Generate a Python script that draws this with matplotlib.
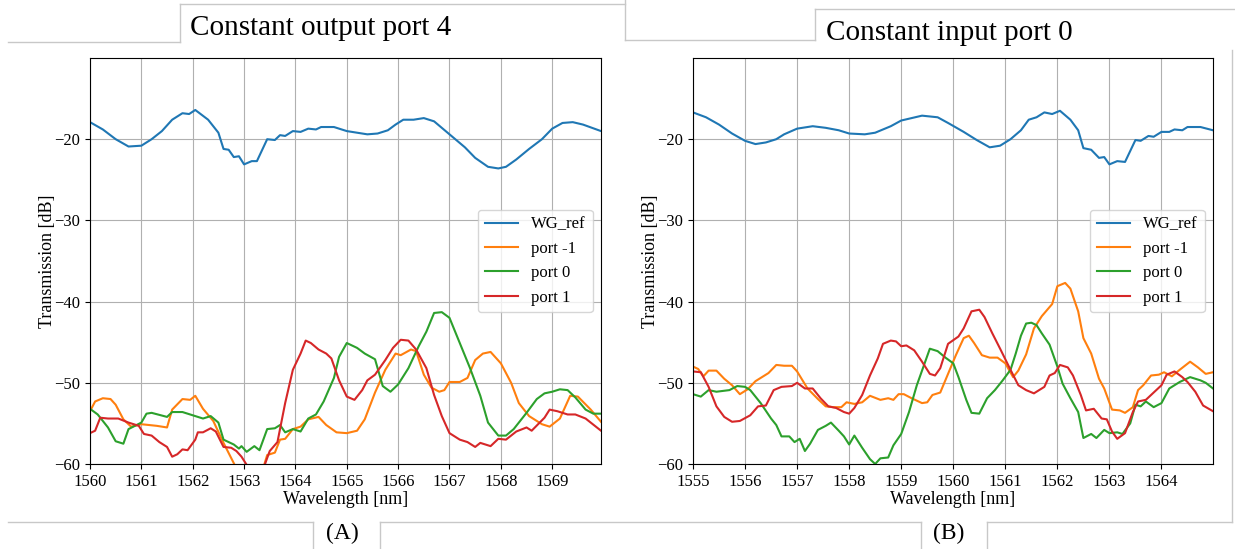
import matplotlib.pyplot as plt
from matplotlib.lines import Line2D

# constant output port 4 (left panel)
wl_a_ref = [1560.0, 1560.25, 1560.5, 1560.75, 1561.0, 1561.2, 1561.4, 1561.6, 1561.8, 1561.93, 1562.05,
            1562.3, 1562.5, 1562.6, 1562.7, 1562.8, 1562.9, 1563.0, 1563.15, 1563.25, 1563.45, 1563.6,
            1563.7, 1563.8, 1563.95, 1564.1, 1564.25, 1564.4, 1564.5, 1564.75, 1565.0, 1565.2, 1565.4,
            1565.6, 1565.8, 1565.95, 1566.1, 1566.3, 1566.5, 1566.7, 1567.0, 1567.3, 1567.5, 1567.75,
            1567.95, 1568.1, 1568.3, 1568.55, 1568.8, 1569.0, 1569.2, 1569.4, 1569.6, 1569.95]
a_ref = [-17.9, -18.8, -20.0, -20.9, -20.8, -20.0, -19.0, -17.6, -16.8, -16.9, -16.4,
         -17.6, -19.2, -21.2, -21.3, -22.2, -22.1, -23.1, -22.7, -22.7, -20.0, -20.1,
         -19.5, -19.6, -19.0, -19.1, -18.7, -18.8, -18.5, -18.5, -19.0, -19.2, -19.4,
         -19.3, -18.9, -18.2, -17.6, -17.6, -17.4, -17.8, -19.4, -21.0, -22.3, -23.4,
         -23.6, -23.4, -22.5, -21.2, -20.0, -18.7, -18.0, -17.9, -18.2, -19.0]

wl_a_m1 = [1560.0, 1560.1, 1560.25, 1560.4, 1560.5, 1560.65, 1560.8, 1561.0, 1561.3, 1561.5, 1561.6,
           1561.8, 1561.95, 1562.05, 1562.2, 1562.4, 1562.6, 1562.8, 1562.95, 1563.1, 1563.3, 1563.45,
           1563.6, 1563.7, 1563.8, 1563.95, 1564.1, 1564.25, 1564.45, 1564.6, 1564.8, 1565.0, 1565.2,
           1565.35, 1565.55, 1565.75, 1565.95, 1566.05, 1566.25, 1566.35, 1566.5, 1566.65, 1566.8,
           1566.9, 1567.0, 1567.2, 1567.35, 1567.5, 1567.65, 1567.8, 1568.0, 1568.2, 1568.35, 1568.55,
           1568.8, 1568.95, 1569.15, 1569.35, 1569.5, 1569.75, 1569.95]
a_m1 = [-53.5, -52.3, -51.9, -52.0, -52.7, -54.5, -55.4, -55.1, -55.3, -55.5, -53.3,
        -52.0, -52.1, -51.6, -53.2, -54.7, -57.4, -59.9, -62.0, -63.0, -62.0, -58.9,
        -58.6, -57.0, -56.9, -55.7, -55.4, -54.5, -54.2, -55.2, -56.1, -56.2, -55.9,
        -54.5, -51.2, -48.4, -46.4, -46.6, -45.9, -46.1, -49.0, -50.6, -51.1,
        -50.9, -49.9, -49.9, -49.4, -47.2, -46.4, -46.2, -47.6, -50.0, -52.5, -54.1,
        -55.1, -55.4, -54.4, -51.6, -51.7, -53.3, -54.8]

wl_a_p0 = [1560.0, 1560.15, 1560.35, 1560.5, 1560.65, 1560.75, 1561.0, 1561.1, 1561.2, 1561.5, 1561.6,
           1561.8, 1562.0, 1562.2, 1562.35, 1562.5, 1562.6, 1562.8, 1562.9, 1562.95, 1563.05, 1563.2,
           1563.3, 1563.45, 1563.6, 1563.7, 1563.8, 1563.95, 1564.1, 1564.25, 1564.4, 1564.55, 1564.75,
           1564.85, 1565.0, 1565.2, 1565.35, 1565.55, 1565.7, 1565.85, 1566.0, 1566.2, 1566.4, 1566.55,
           1566.7, 1566.85, 1567.0, 1567.2, 1567.4, 1567.6, 1567.75, 1567.95, 1568.1, 1568.25, 1568.5,
           1568.7, 1568.85, 1569.0, 1569.15, 1569.3, 1569.45, 1569.65, 1569.8, 1569.95]
a_p0 = [-53.2, -53.9, -55.5, -57.2, -57.5, -55.7, -54.9, -53.8, -53.7, -54.2, -53.6,
        -53.6, -54.0, -54.4, -54.1, -54.9, -57.0, -57.6, -58.1, -57.8, -58.5, -57.8,
        -58.3, -55.7, -55.6, -55.2, -56.1, -55.7, -56.0, -54.4, -53.9, -52.3, -49.4,
        -46.8, -45.1, -45.7, -46.4, -47.1, -50.4, -51.1, -50.2, -48.2, -45.5, -43.7,
        -41.4, -41.3, -42.0, -45.1, -48.2, -51.6, -54.9, -56.5, -56.5, -55.7, -53.7,
        -52.0, -51.3, -51.1, -50.8, -50.9, -51.8, -53.3, -53.8, -53.8]

wl_a_p1 = [1560.0, 1560.1, 1560.2, 1560.35, 1560.55, 1560.75, 1560.95, 1561.05, 1561.2, 1561.35, 1561.5,
           1561.6, 1561.7, 1561.8, 1561.9, 1562.05, 1562.1, 1562.2, 1562.35, 1562.45, 1562.6, 1562.75,
           1562.85, 1562.95, 1563.05, 1563.2, 1563.35, 1563.5, 1563.65, 1563.8, 1563.95, 1564.1, 1564.2,
           1564.3, 1564.45, 1564.6, 1564.7, 1564.85, 1565.0, 1565.15, 1565.3, 1565.4, 1565.55, 1565.75,
           1565.9, 1566.05, 1566.2, 1566.35, 1566.55, 1566.7, 1566.85, 1567.0, 1567.2, 1567.35, 1567.5,
           1567.6, 1567.8, 1567.95, 1568.1, 1568.3, 1568.5, 1568.6, 1568.85, 1568.95, 1569.1, 1569.3,
           1569.45, 1569.65, 1569.95]
a_p1 = [-56.2, -55.9, -54.3, -54.4, -54.4, -54.9, -55.3, -56.3, -56.5, -57.3, -57.9,
        -59.1, -58.8, -58.2, -58.3, -57.0, -56.1, -56.1, -55.6, -56.0, -57.9, -58.0,
        -58.4, -59.1, -60.1, -62.0, -61.0, -58.4, -57.3, -52.5, -48.4, -46.4, -44.8,
        -45.1, -45.9, -46.4, -47.0, -49.7, -51.7, -52.1, -50.9, -49.7, -49.0, -47.2,
        -45.7, -44.7, -44.8, -45.9, -48.2, -51.5, -54.1, -56.2, -57.0, -57.3, -57.9,
        -57.4, -57.8, -56.9, -57.0, -56.0, -55.5, -55.9, -54.3, -53.3, -53.5, -53.9,
        -53.9, -54.4, -55.9]

# constant input port 0 (right panel)
wl_b_ref = [1555.0, 1555.25, 1555.5, 1555.75, 1556.0, 1556.2, 1556.4, 1556.6, 1556.75, 1557.0, 1557.3,
            1557.55, 1557.8, 1558.0, 1558.3, 1558.5, 1558.8, 1559.0, 1559.2, 1559.4, 1559.7, 1559.9,
            1560.2, 1560.45, 1560.7, 1560.9, 1561.1, 1561.3, 1561.45, 1561.6, 1561.75, 1561.9, 1562.05,
            1562.25, 1562.4, 1562.5, 1562.65, 1562.8, 1562.9, 1563.0, 1563.15, 1563.3, 1563.5, 1563.6,
            1563.75, 1563.85, 1564.0, 1564.15, 1564.25, 1564.4, 1564.5, 1564.75, 1564.99]
b_ref = [-16.7, -17.3, -18.2, -19.3, -20.2, -20.6, -20.4, -20.0, -19.4, -18.7, -18.4,
         -18.6, -18.9, -19.3, -19.4, -19.2, -18.4, -17.7, -17.4, -17.1, -17.3, -18.0,
         -19.1, -20.1, -21.0, -20.8, -20.0, -18.9, -17.6, -17.3, -16.7, -16.9, -16.5,
         -17.6, -18.9, -21.1, -21.3, -22.3, -22.2, -23.1, -22.7, -22.8, -20.1, -20.2,
         -19.6, -19.7, -19.1, -19.1, -18.8, -18.9, -18.5, -18.5, -18.9]

wl_b_m1 = [1555.0, 1555.1, 1555.2, 1555.3, 1555.45, 1555.6, 1555.75, 1555.9, 1556.05, 1556.2, 1556.45,
           1556.6, 1556.75, 1556.9, 1557.0, 1557.2, 1557.4, 1557.55, 1557.7, 1557.85, 1557.95, 1558.1,
           1558.25, 1558.4, 1558.6, 1558.75, 1558.85, 1558.95, 1559.05, 1559.2, 1559.4, 1559.5, 1559.6,
           1559.75, 1559.9, 1560.05, 1560.2, 1560.3, 1560.4, 1560.55, 1560.7, 1560.85, 1561.0, 1561.15,
           1561.25, 1561.4, 1561.55, 1561.7, 1561.9, 1562.0, 1562.15, 1562.25, 1562.4, 1562.5, 1562.65,
           1562.8, 1562.9, 1563.05, 1563.2, 1563.3, 1563.45, 1563.55, 1563.65, 1563.8, 1563.95, 1564.05,
           1564.2, 1564.35, 1564.55, 1564.7, 1564.85, 1564.99]
b_m1 = [-48.0, -48.3, -49.2, -48.5, -48.5, -49.5, -50.3, -51.4, -50.8, -49.8, -48.8,
        -47.8, -47.9, -47.9, -48.6, -50.7, -52.0, -52.9, -53.0, -53.0, -52.4, -52.6,
        -52.4, -51.6, -52.1, -51.9, -52.1, -51.4, -51.4, -51.9, -52.5, -52.4, -51.5,
        -51.2, -48.9, -46.6, -44.5, -44.2, -45.1, -46.6, -46.9, -46.9, -47.6, -49.3,
        -48.5, -46.5, -43.3, -41.8, -40.3, -38.1, -37.7, -38.4, -41.2, -44.5, -46.4,
        -49.5, -50.7, -53.3, -53.4, -53.7, -53.0, -50.9, -50.3, -49.1, -49.0, -48.7,
        -49.2, -48.4, -47.4, -48.1, -48.9, -48.7]

wl_b_p0 = [1555.0, 1555.15, 1555.3, 1555.45, 1555.7, 1555.85, 1556.0, 1556.1, 1556.3, 1556.5, 1556.6,
           1556.7, 1556.85, 1556.95, 1557.05, 1557.15, 1557.25, 1557.4, 1557.55, 1557.65, 1557.8, 1557.9,
           1558.0, 1558.1, 1558.25, 1558.4, 1558.5, 1558.6, 1558.75, 1558.85, 1559.0, 1559.15, 1559.3,
           1559.45, 1559.55, 1559.7, 1559.85, 1560.0, 1560.1, 1560.25, 1560.35, 1560.5, 1560.65, 1560.8,
           1560.95, 1561.1, 1561.2, 1561.3, 1561.4, 1561.5, 1561.6, 1561.7, 1561.85, 1562.0, 1562.1,
           1562.25, 1562.4, 1562.5, 1562.65, 1562.75, 1562.9, 1563.0, 1563.15, 1563.25, 1563.4, 1563.5,
           1563.6, 1563.7, 1563.85, 1564.0, 1564.15, 1564.35, 1564.55, 1564.75, 1564.85, 1564.99]
b_p0 = [-51.4, -51.7, -50.9, -51.1, -50.9, -50.4, -50.5, -50.9, -52.5, -54.4, -55.2,
        -56.6, -56.6, -57.3, -56.9, -58.4, -57.5, -55.8, -55.3, -54.9, -55.9, -56.6,
        -57.6, -56.5, -58.0, -59.4, -60.0, -59.3, -59.2, -57.7, -56.3, -53.6, -50.3,
        -47.6, -45.8, -46.1, -46.9, -47.6, -49.3, -52.1, -53.7, -53.8, -51.9, -50.9,
        -49.7, -48.4, -46.4, -44.2, -42.7, -42.6, -42.9, -43.9, -45.3, -48.0, -50.1,
        -51.9, -53.6, -56.8, -56.3, -56.8, -55.8, -56.2, -56.1, -56.3, -55.0, -52.7,
        -52.9, -52.3, -53.0, -52.5, -50.7, -49.9, -49.3, -49.7, -50.0, -50.7]

wl_b_p1 = [1555.0, 1555.15, 1555.3, 1555.45, 1555.6, 1555.75, 1555.9, 1556.1, 1556.25, 1556.4, 1556.55,
           1556.7, 1556.9, 1557.0, 1557.15, 1557.3, 1557.45, 1557.6, 1557.75, 1557.9, 1558.0, 1558.1,
           1558.25, 1558.4, 1558.55, 1558.65, 1558.8, 1558.9, 1559.0, 1559.1, 1559.25, 1559.4, 1559.55,
           1559.65, 1559.75, 1559.9, 1560.1, 1560.2, 1560.35, 1560.5, 1560.6, 1560.75, 1560.9, 1561.1,
           1561.25, 1561.4, 1561.55, 1561.75, 1561.85, 1561.95, 1562.05, 1562.2, 1562.3, 1562.45, 1562.55,
           1562.7, 1562.85, 1562.95, 1563.05, 1563.15, 1563.3, 1563.45, 1563.55, 1563.7, 1563.85, 1564.0,
           1564.1, 1564.25, 1564.4, 1564.5, 1564.65, 1564.8, 1564.99]
b_p1 = [-48.6, -48.7, -50.5, -52.9, -54.2, -54.8, -54.7, -54.0, -52.9, -52.8, -50.9,
        -50.5, -50.4, -50.0, -50.7, -50.7, -51.9, -52.9, -53.1, -53.6, -53.8, -53.1,
        -51.5, -49.1, -47.0, -45.2, -44.8, -44.9, -45.5, -45.4, -46.0, -47.4, -48.9,
        -49.1, -48.2, -45.2, -44.3, -43.3, -41.2, -41.0, -41.9, -43.9, -45.8, -48.4,
        -50.3, -50.9, -51.3, -50.5, -49.1, -48.8, -47.8, -48.1, -49.1, -51.5, -53.4,
        -53.2, -54.4, -54.5, -56.0, -56.9, -56.2, -53.6, -52.3, -52.1, -51.2, -50.3,
        -49.0, -48.6, -49.3, -49.9, -51.1, -52.8, -53.5]

labels = ['WG_ref', 'port -1', 'port 0', 'port 1']

W, H = 1235, 549

plt.rcParams['font.family'] = ['Liberation Serif', 'DejaVu Serif']
plt.rcParams['axes.unicode_minus'] = True

fig = plt.figure(figsize=(W / 100, H / 100), dpi=100)


def box(x0, y0, x1, y1):
    # pixel coordinates from the top left corner
    fig.add_artist(Line2D([x0 / W, x1 / W], [1 - y0 / H, 1 - y1 / H],
                          transform=fig.transFigure, color='#c8c8c8', lw=1.0))


def panel(rect, series, xlim):
    ax = fig.add_axes([rect[0] / W, 1 - rect[3] / H, (rect[2] - rect[0]) / W, (rect[3] - rect[1]) / H])
    for (x, y), lab in zip(series, labels):
        ax.plot(x, y, label=lab, lw=1.5)
    ax.set_xlim(*xlim)
    ax.set_ylim(-60, -10)
    ax.set_xticks(range(int(xlim[0]), int(xlim[0]) + 10))
    ax.set_yticks([-60, -50, -40, -30, -20])
    ax.grid(True)
    ax.tick_params(labelsize=12)
    ax.set_xlabel('Wavelength [nm]', fontsize=13, labelpad=1)
    ax.set_ylabel('Transmission [dB]', fontsize=13, labelpad=-1)
    ax.legend(loc='center right', fontsize=12)
    return ax


panel((90, 58, 601, 464),
      [(wl_a_ref, a_ref), (wl_a_m1, a_m1), (wl_a_p0, a_p0), (wl_a_p1, a_p1)],
      (1560, 1569.95))
panel((693, 58, 1213, 464),
      [(wl_b_ref, b_ref), (wl_b_m1, b_m1), (wl_b_p0, b_p0), (wl_b_p1, b_p1)],
      (1555, 1564.99))

# frame lines of the layout
box(8, 42, 180, 42)
box(180, 42, 180, 4)
box(180, 4, 625, 4)
box(625, 0, 625, 40)
box(625, 40, 815, 40)
box(815, 40, 815, 9)
box(815, 9, 1235, 9)
box(1232, 50, 1232, 522)
box(8, 522, 313, 522)
box(313, 522, 313, 549)
box(380, 549, 380, 522)
box(380, 522, 921, 522)
box(921, 522, 921, 549)
box(987, 549, 987, 522)
box(987, 522, 1232, 522)

fig.text(190 / W, 1 - 28 / H, 'Constant output port 4', fontsize=21, va='center', ha='left')
fig.text(826 / W, 1 - 33 / H, 'Constant input port 0', fontsize=21, va='center', ha='left')
fig.text(342 / W, 1 - 533 / H, '(A)', fontsize=17, va='center', ha='center')
fig.text(949 / W, 1 - 533 / H, '(B)', fontsize=17, va='center', ha='center')

fig.savefig('out.png', dpi=100)
